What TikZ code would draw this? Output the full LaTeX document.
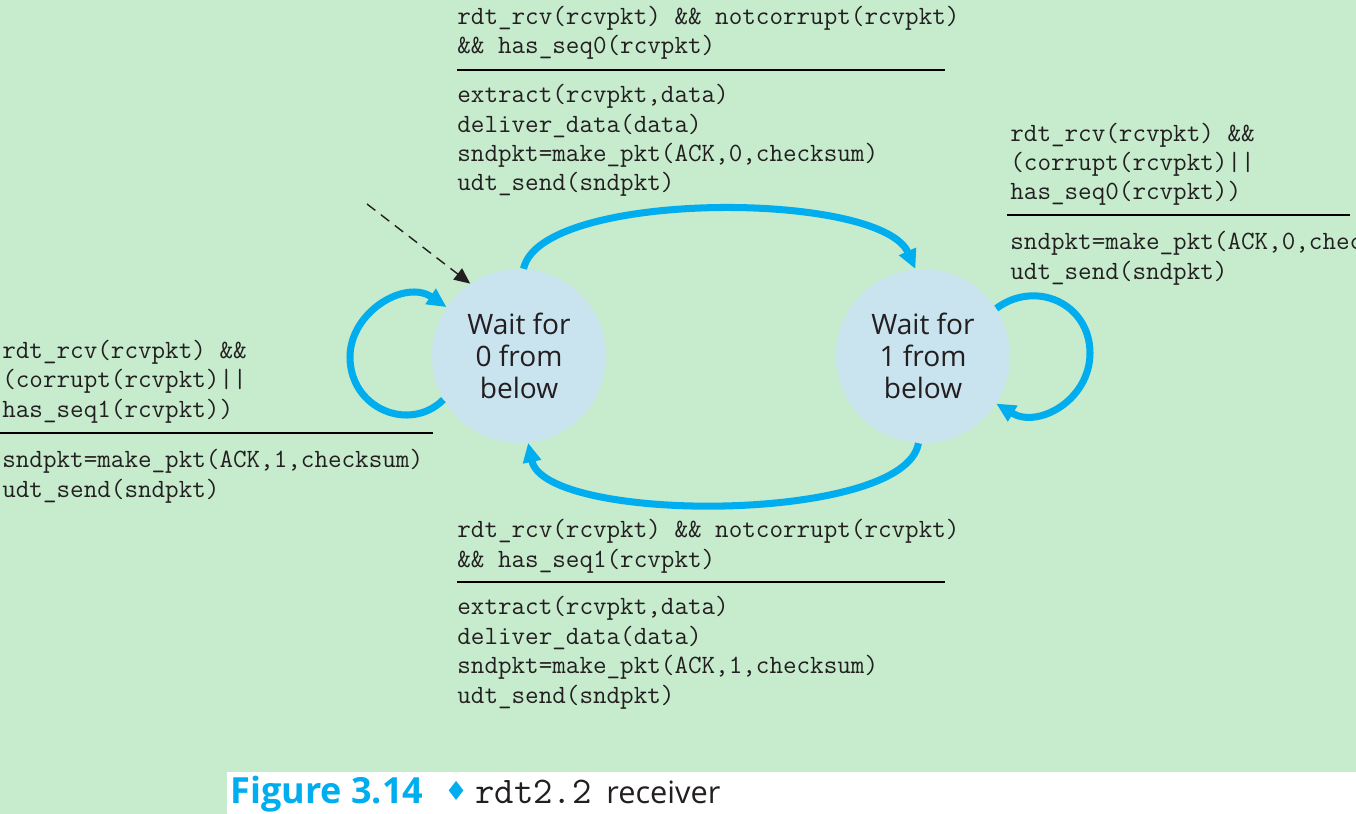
\documentclass[tikz,border=0pt]{standalone}
\usepackage{fontspec}
\usetikzlibrary{arrows.meta}
\newfontfamily\estfont{Open Sans}
\newfontfamily\simbfont{DejaVu Sans}
\definecolor{fondo}{HTML}{C6EBCD}
\definecolor{estado}{HTML}{C9E3EF}
\definecolor{azul}{HTML}{00AEEF}
\definecolor{tinta}{HTML}{231F20}
\newcommand{\codigo}{\fontsize{15}{16.7}\selectfont\ttfamily}
\tikzset{
  estadonodo/.style={circle, fill=estado, minimum size=3.48cm, inner sep=0pt,
    align=center, text=tinta, font=\estfont\fontsize{16}{18.1}\selectfont},
  trans/.style={azul, line width=4pt, -{Triangle[length=11pt,width=10pt]}},
  inicio/.style={tinta, line width=0.8pt, dash pattern=on 6pt off 4pt,
    -{Triangle[length=9pt,width=8pt]}},
  guarda/.style={anchor=base west, inner sep=0pt, align=left, font=\codigo, text=tinta},
  raya/.style={line width=1.1pt, black},
}
\begin{document}
\begin{tikzpicture}[x=0.02cm, y=-0.02cm]
% Marco y fondo
\useasboundingbox (0,0) rectangle (1356,814);
\clip (0,0) rectangle (1356,814);
\fill[fondo] (0,0) rectangle (1356,814);
\fill[white] (227,772) rectangle (1356,814);

% Estados
\node[estadonodo] (s0) at (519,356) {Wait for\\0 from\\below};
\node[estadonodo] (s1) at (923,356) {Wait for\\1 from\\below};

% Flecha inicial (discontinua)
\coordinate (ini) at (367,204);
\draw[inicio] (ini) -- (s0.124);

% Transiciones entre estados
\draw[trans] (s0.87) .. controls (540,190) and (880,190) .. (s1.95);
\draw[trans] (s1.-93) .. controls (905,524) and (545,524) .. (s0.-84);

% Bucles
\draw[trans] (s0.210) .. controls (410,433) and (350,409) .. (350,357)
  .. controls (350,312) and (405,279) .. (s0.146);
\draw[trans] (s1.33) .. controls (1036,279) and (1090,304) .. (1090,353)
  .. controls (1090,400) and (1038,429) .. (s1.-33);

% Texto 0 -> 1 (arriba); el ancla base va en la ultima linea
\node[guarda] (g01) at (457,54) {rdt\_rcv(rcvpkt) \&\& notcorrupt(rcvpkt)\\\&\& has\_seq0(rcvpkt)};
\draw[raya] (457,70) -- (945,70);
\node[guarda] (a01) at (457,191) {extract(rcvpkt,data)\\deliver\_data(data)\\sndpkt=make\_pkt(ACK,0,checksum)\\udt\_send(sndpkt)};

% Texto 1 -> 1 (derecha)
\node[guarda] (g11) at (1010,200) {rdt\_rcv(rcvpkt) \&\&\\(corrupt(rcvpkt)||\\has\_seq0(rcvpkt))};
\draw[raya] (1007,215) -- (1350,215);
\node[guarda] (a11) at (1010,279) {sndpkt=make\_pkt(ACK,0,checksum)\\udt\_send(sndpkt)};

% Texto 0 -> 0 (izquierda)
\node[guarda] (g00) at (2,417) {rdt\_rcv(rcvpkt) \&\&\\(corrupt(rcvpkt)||\\has\_seq1(rcvpkt))};
\draw[raya] (0,433) -- (433,433);
\node[guarda] (a00) at (2,497) {sndpkt=make\_pkt(ACK,1,checksum)\\udt\_send(sndpkt)};

% Texto 1 -> 0 (abajo)
\node[guarda] (g10) at (457,567) {rdt\_rcv(rcvpkt) \&\& notcorrupt(rcvpkt)\\\&\& has\_seq1(rcvpkt)};
\draw[raya] (457,582) -- (945,582);
\node[guarda] (a10) at (457,703) {extract(rcvpkt,data)\\deliver\_data(data)\\sndpkt=make\_pkt(ACK,1,checksum)\\udt\_send(sndpkt)};

% Pie de figura
\node[anchor=base west, inner sep=0pt, text=azul, font=\estfont\bfseries\fontsize{20.5}{24}\selectfont] (fig) at (230,803) {Figure 3.14};
\node[anchor=base west, inner sep=0pt, text=azul, font=\simbfont\fontsize{15}{16}\selectfont] (rombo) at (444,800) {♦};
\node[anchor=base west, inner sep=0pt, text=tinta, font=\ttfamily\fontsize{21.4}{24}\selectfont] (rdt) at (475,803) {rdt2.2};
\node[anchor=base west, inner sep=0pt, text=tinta, font=\estfont\fontsize{17.5}{21}\selectfont] (rec) at (606,803) {receiver};
\end{tikzpicture}
\end{document}
